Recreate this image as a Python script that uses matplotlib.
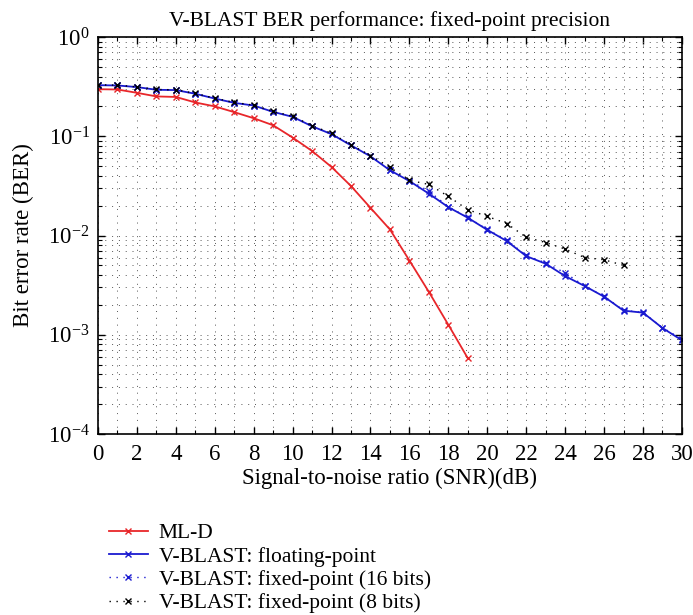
import matplotlib
matplotlib.use("Agg")
import matplotlib.pyplot as plt
from matplotlib.ticker import LogLocator, MultipleLocator, NullFormatter

plt.rcParams['font.family'] = ['Liberation Serif', 'DejaVu Serif']
plt.rcParams['mathtext.fontset'] = 'stix'

# SNR (dB)
snr_ml = list(range(0, 20))
ber_ml = [0.298, 0.296, 0.274, 0.252, 0.249, 0.219, 0.200, 0.175, 0.152, 0.129,
          0.097, 0.071, 0.049, 0.0315, 0.019, 0.0115, 0.0056, 0.0027, 0.00126, 0.00058]

snr_vb = list(range(0, 31))
ber_float = [0.327, 0.325, 0.313, 0.294, 0.292, 0.268, 0.240, 0.217, 0.204, 0.176,
             0.157, 0.126, 0.105, 0.081, 0.0628, 0.0454, 0.0354, 0.0264, 0.0193, 0.0151,
             0.0114, 0.0088, 0.0062, 0.0052, 0.0039, 0.0031, 0.00242, 0.00175, 0.00167, 0.00117,
             0.00088]
ber_fix16 = [0.327, 0.325, 0.313, 0.294, 0.292, 0.268, 0.240, 0.217, 0.204, 0.176,
             0.157, 0.126, 0.105, 0.081, 0.0628, 0.0460, 0.0358, 0.0280, 0.0195, 0.0152,
             0.0115, 0.0090, 0.0063, 0.0053, 0.0042, 0.0031, 0.00245, 0.00176, 0.00168, 0.00118,
             0.00090]

snr_fix8 = list(range(0, 28))
ber_fix8 = [0.330, 0.327, 0.315, 0.296, 0.294, 0.270, 0.242, 0.219, 0.206, 0.178,
            0.159, 0.128, 0.107, 0.082, 0.064, 0.0486, 0.036, 0.0327, 0.0248, 0.0182,
            0.0156, 0.0132, 0.0096, 0.0085, 0.0073, 0.0060, 0.0057, 0.0050]

fs = 16.5
fig = plt.figure(figsize=(6.93, 6.15), dpi=100)
ax = fig.add_axes([0.1414, 0.2943, 0.8426, 0.6455])

dots = (0, (1, 4))
ax.semilogy(snr_ml, ber_ml, color='#e8262a', marker='x', ms=4.5, lw=1.3, label='ML-D')
ax.semilogy(snr_vb, ber_float, color='#1a1ad0', marker='x', ms=4.5, lw=1.3,
            label='V-BLAST: floating-point')
ax.semilogy(snr_vb, ber_fix16, color='#1a1ad0', marker='x', ms=4.5, lw=1.0, ls=dots,
            label='V-BLAST: fixed-point (16 bits)')
ax.semilogy(snr_fix8, ber_fix8, color='black', marker='x', ms=4.5, lw=1.0, ls=dots,
            label='V-BLAST: fixed-point (8 bits)')

ax.set_xlim(0, 30)
ax.set_ylim(1e-4, 1)
ax.xaxis.set_major_locator(MultipleLocator(2))
ax.xaxis.set_minor_locator(MultipleLocator(1))
ax.yaxis.set_major_locator(LogLocator(base=10, numticks=10))
ax.yaxis.set_minor_locator(LogLocator(base=10, subs=range(2, 10), numticks=10))
ax.yaxis.set_minor_formatter(NullFormatter())

ax.grid(True, which='both', color='#555555', ls=(0, (1, 6)), lw=0.7)
ax.tick_params(which='both', direction='in', top=True, right=True, labelsize=fs)
ax.tick_params(axis='x', which='major', pad=7)
ax.tick_params(axis='y', which='major', pad=6)
ax.tick_params(which='major', length=5, width=1)
ax.tick_params(which='minor', length=3, width=0.8)
for s in ax.spines.values():
    s.set_linewidth(1.2)

ax.set_title('V-BLAST BER performance: fixed-point precision', fontsize=fs - 1, pad=8)
ax.set_xlabel('Signal-to-noise ratio (SNR)(dB)', fontsize=fs, labelpad=2)
ax.set_ylabel('Bit error rate (BER)', fontsize=fs, labelpad=10)

fig.legend(loc='upper left', bbox_to_anchor=(0.145, 0.163), frameon=False, fontsize=15.5,
           handlelength=1.8, labelspacing=0.15, borderaxespad=0, handletextpad=0.5)

fig.savefig('out.png', dpi=100)
